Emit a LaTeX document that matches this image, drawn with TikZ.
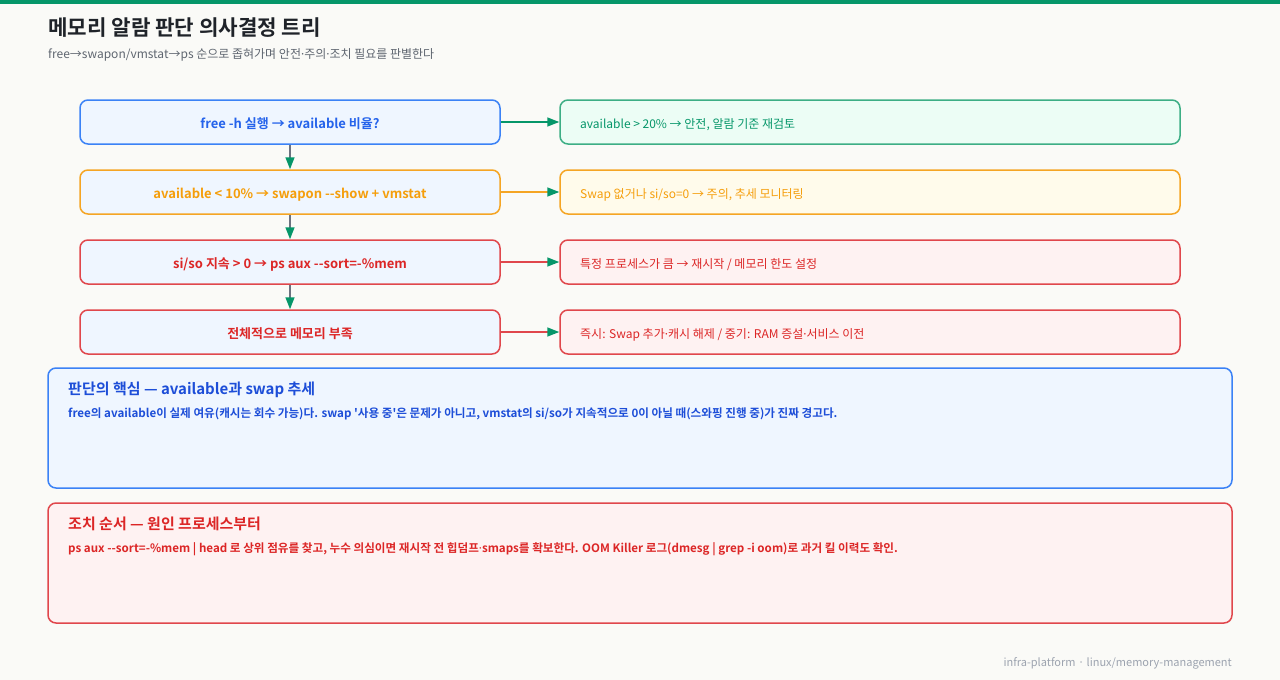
\documentclass[tikz,border=0pt]{standalone}
\usepackage{fontspec}
\setmainfont{Noto Sans CJK KR}[BoldFont={Noto Sans CJK KR Bold},Ligatures=TeXOff]
\newfontfamily\latinf{Noto Sans}[Ligatures=TeXOff]
\newcommand{\md}{{\latinf ·}}
\usetikzlibrary{arrows.meta}
\definecolor{bg}{HTML}{FAFAF7}
\definecolor{topbar}{HTML}{059669}
\definecolor{titlec}{HTML}{1F2329}
\definecolor{subc}{HTML}{5F6670}
\definecolor{footc}{HTML}{9CA3AF}
\definecolor{bluebd}{HTML}{3B82F6}
\definecolor{bluetx}{HTML}{2563EB}
\definecolor{bluedk}{HTML}{1D4ED8}
\definecolor{bluefill}{HTML}{EFF6FF}
\definecolor{orgbd}{HTML}{F5A524}
\definecolor{orgtx}{HTML}{F59E0B}
\definecolor{orgfill}{HTML}{FFFBEB}
\definecolor{redbd}{HTML}{E0474C}
\definecolor{redtx}{HTML}{DC2626}
\definecolor{redfill}{HTML}{FEF2F2}
\definecolor{grnbd}{HTML}{3DAE85}
\definecolor{grntx}{HTML}{059669}
\definecolor{grnfill}{HTML}{ECFDF5}
\definecolor{arrgrn}{HTML}{059669}
\definecolor{vline}{HTML}{6B7280}
\tikzset{
  lbox/.style={draw=#1, line width=1.5pt, rounded corners=8pt, fill=bluefill, minimum width=420pt, minimum height=44pt, inner sep=0pt, text height=12.5pt, text depth=0pt, font=\fontsize{13}{15}\selectfont\bfseries},
  rbox/.style={draw=#1, line width=1.5pt, rounded corners=8pt, minimum width=620pt, minimum height=44pt, inner sep=0pt},
  rtext/.style={anchor=base west, font=\fontsize{12}{14}\selectfont, inner sep=0pt},
  harr/.style={draw=#1, line width=1.6pt, -{Triangle[length=12pt,width=9pt,color=arrgrn]}},
  varr/.style={draw=vline, line width=1.6pt, -{Triangle[length=12pt,width=9pt,color=arrgrn]}},
  panel/.style={draw=#1, line width=1.5pt, rounded corners=8pt, minimum width=1184pt, minimum height=120pt, inner sep=0pt},
  ptitle/.style={anchor=base west, inner sep=0pt, font=\fontsize{15}{18}\selectfont\bfseries},
  pbody/.style={anchor=base west, inner sep=0pt, font=\fontsize{11.6}{14}\selectfont\bfseries},
}
\begin{document}
\begin{tikzpicture}[x=1pt,y=-1pt]
\fill[bg] (0,0) rectangle (1280,680);
\useasboundingbox (0,0) rectangle (1280,680);
\fill[topbar] (0,0) rectangle (1280,4);
\node[anchor=base west, inner sep=0pt, text=titlec, font=\fontsize{21.2}{25}\selectfont\bfseries] (title) at (48,35) {메모리 알람 판단 의사결정 트리};
\node[anchor=base west, inner sep=0pt, text=subc, font=\fontsize{12}{14}\selectfont] (sub) at (48,58) {free→swapon/vmstat→ps 순으로 좁혀가며 안전\md 주의\md 조치 필요를 판별한다};
% left boxes
\node[lbox=bluebd, text=bluetx] (l1) at (290,122) {free -h 실행 → available 비율?};
\node[lbox=orgbd, text=orgtx] (l2) at (290,192) {available < 10\% → swapon --show + vmstat};
\node[lbox=redbd, text=redtx] (l3) at (290,262) {si/so 지속 > 0 → ps aux --sort=-\%mem};
\node[lbox=redbd, text=redtx] (l4) at (290,332) {전체적으로 메모리 부족};
% right boxes
\node[rbox=grnbd, fill=grnfill] (r1) at (870,122) {};
\node[rbox=orgbd, fill=orgfill] (r2) at (870,192) {};
\node[rbox=redbd, fill=redfill] (r3) at (870,262) {};
\node[rbox=redbd, fill=redfill] (r4) at (870,332) {};
\node[rtext, text=grntx] (t1) at (580,128.5) {available > 20\% → 안전, 알람 기준 재검토};
\node[rtext, text=orgtx] (t2) at (580,198.5) {Swap 없거나 si/so=0 → 주의, 추세 모니터링};
\node[rtext, text=redtx] (t3) at (580,268.5) {특정 프로세스가 큼 → 재시작 / 메모리 한도 설정};
\node[rtext, text=redtx] (t4) at (580,338.5) {즉시: Swap 추가\md 캐시 해제 / 중기: RAM 증설\md 서비스 이전};
% arrows
\draw[harr=grntx] (l1.east) -- (r1.west);
\draw[harr=orgbd] (l2.east) -- (r2.west);
\draw[harr=redbd] (l3.east) -- (r3.west);
\draw[harr=redbd] (l4.east) -- (r4.west);
\draw[varr] (l1.south) -- (l2.north);
\draw[varr] (l2.south) -- (l3.north);
\draw[varr] (l3.south) -- (l4.north);
% panels
\node[panel=bluebd, fill=bluefill] (p1) at (640,428) {};
\node[ptitle, text=bluedk] (p1t) at (68,394) {판단의 핵심 — available과 swap 추세};
\node[pbody, text=bluedk] (p1b) at (68,417.5) {free의 available이 실제 여유(캐시는 회수 가능)다. swap '사용 중'은 문제가 아니고, vmstat의 si/so가 지속적으로 0이 아닐 때(스와핑 진행 중)가 진짜 경고다.};
\node[panel=redbd, fill=redfill] (p2) at (640,563) {};
\node[ptitle, text=redtx] (p2t) at (68,529) {조치 순서 — 원인 프로세스부터};
\node[pbody, text=redtx] (p2b) at (68,552.5) {ps aux --sort=-\%mem | head 로 상위 점유를 찾고, 누수 의심이면 재시작 전 힙덤프\md smaps를 확보한다. OOM Killer 로그(dmesg | grep -i oom)로 과거 킬 이력도 확인.};
\node[anchor=base east, inner sep=0pt, text=footc, font=\fontsize{11}{13}\selectfont] (foot) at (1232,666) {infra-platform · linux/memory-management};
\end{tikzpicture}
\end{document}
